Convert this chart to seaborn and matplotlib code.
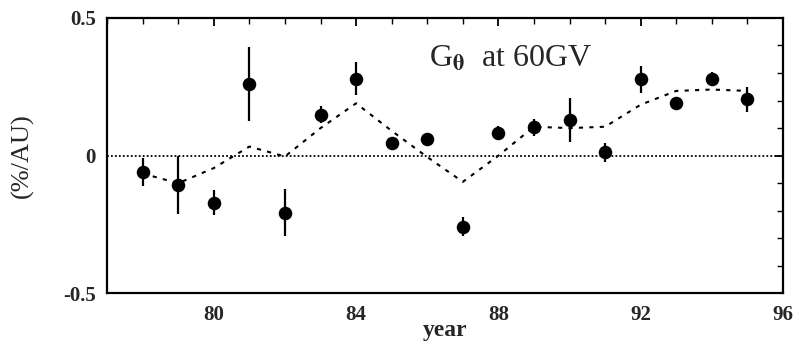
import numpy as np
import pandas as pd
import matplotlib
matplotlib.use("Agg")
import matplotlib.pyplot as plt
import seaborn as sns
from matplotlib.ticker import MultipleLocator, FixedLocator

years = [78, 79, 80, 81, 82, 83, 84, 85, 86, 87, 88, 89, 90, 91, 92, 93, 94, 95]
values = [-0.06, -0.105, -0.17, 0.26, -0.207, 0.149, 0.28, 0.047, 0.062, -0.258,
          0.082, 0.103, 0.128, 0.012, 0.277, 0.19, 0.28, 0.205]
errors = [0.05, 0.105, 0.045, 0.133, 0.085, 0.03, 0.06, 0.015, 0.015, 0.035,
          0.025, 0.03, 0.08, 0.035, 0.05, 0.015, 0.025, 0.045]
curve = [-0.065, -0.1, -0.045, 0.033, -0.003, 0.1, 0.19, 0.09, -0.005, -0.095,
         0.0, 0.105, 0.1, 0.105, 0.185, 0.235, 0.24, 0.235]

df = pd.DataFrame({"year": years, "value": values, "err": errors, "curve": curve})

sns.set_style("white")
plt.rcParams['font.family'] = ['Liberation Serif', 'DejaVu Serif']
plt.rcParams['mathtext.fontset'] = 'stix'

fig = plt.figure(figsize=(7.99, 3.44), dpi=100)
ax = fig.add_axes([0.134, 0.147, 0.846, 0.801])

ax.axhline(0, color='black', lw=1.3, ls=(0, (1, 1.2)), zorder=1)
sns.lineplot(data=df, x="year", y="curve", ax=ax, color='black', lw=1.5,
             linestyle=(0, (2, 3)), zorder=2)
ax.errorbar(df["year"], df["value"], yerr=df["err"], fmt='none', ecolor='black',
            elinewidth=1.6, capsize=0, zorder=3)
sns.scatterplot(data=df, x="year", y="value", ax=ax, color='black', s=95,
                edgecolor='black', linewidth=0, zorder=4)

ax.set_xlim(77, 96)
ax.set_ylim(-0.5, 0.5)
ax.xaxis.set_major_locator(FixedLocator([80, 84, 88, 92, 96]))
ax.xaxis.set_minor_locator(MultipleLocator(1))
ax.yaxis.set_major_locator(FixedLocator([-0.5, 0, 0.5]))
ax.yaxis.set_minor_locator(MultipleLocator(0.1))
ax.set_yticklabels(['-0.5', '0', '0.5'])
ax.set_xticklabels(['80', '84', '88', '92', '96'])

ax.tick_params(which='both', direction='in', top=True, right=True, color='black')
ax.tick_params(which='major', length=6, width=1.3)
ax.tick_params(which='minor', length=4, width=1.0)
ax.tick_params(axis='both', which='major', labelsize=15, pad=8)
for lab in ax.get_xticklabels() + ax.get_yticklabels():
    lab.set_fontweight('bold')

for sp in ax.spines.values():
    sp.set_visible(True)
    sp.set_color('black')
    sp.set_linewidth(1.6)

ax.set_xlabel('year', fontsize=17, fontweight='bold', labelpad=-3)
ax.set_ylabel('(%/AU)', fontsize=19, labelpad=21)

ax.text(86.05, 0.35, r'G$_{\mathbf{\theta}}$  at 60GV', fontsize=23, ha='left', va='center')

fig.savefig('out.png', dpi=100)
